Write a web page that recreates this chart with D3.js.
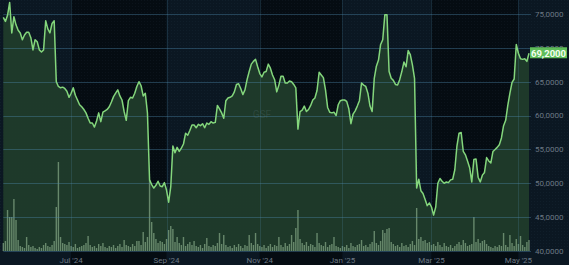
<!DOCTYPE html>
<html>
<head>
<meta charset="utf-8">
<script src="https://cdn.jsdelivr.net/npm/d3@7"></script>
<style>
body { margin: 0; background: #08121b; overflow: hidden; }
svg { display: block; }
</style>
</head>
<body>
<div id="chart"></div>
<script>
// daily closing prices (EUR), one per trading day
var closes = [
    74.5, 73.9, 74.8, 76.7, 72.2, 74.6, 73.4, 72.6, 72.2, 71.2,
    71.9, 72.3, 72.3, 71.5, 69.7, 71.2, 70.9, 69.7, 69.4, 69.7,
    74.0, 72.8, 72.2, 73.6, 74.0, 65.0, 64.3, 64.1, 64.2, 64.0,
    63.6, 62.7, 63.3, 64.1, 63.0, 62.3, 61.6, 61.3, 60.9, 60.4,
    59.6, 58.9, 58.9, 58.3, 59.2, 60.4, 59.1, 60.5, 60.7, 60.9,
    61.3, 62.0, 62.8, 63.3, 63.8, 62.9, 62.3, 60.6, 59.3, 62.2,
    62.7, 62.6, 63.3, 64.3, 65.0, 64.4, 62.9, 63.3, 60.4, 50.5,
    49.8, 49.3, 49.7, 50.3, 49.6, 49.5, 50.1, 49.0, 47.2, 49.5,
    55.5, 54.5, 55.3, 54.7, 55.2, 55.8, 57.4, 57.1, 57.8, 58.6,
    58.6, 58.2, 58.7, 58.5, 58.8, 58.2, 58.9, 58.7, 59.1, 58.9,
    59.0, 61.5, 61.0, 60.4, 59.6, 62.2, 62.6, 62.7, 62.9, 63.5,
    64.6, 64.7, 64.0, 63.1, 63.8, 65.3, 66.5, 67.6, 68.0, 68.3,
    67.2, 66.2, 65.7, 66.4, 66.5, 67.6, 67.0, 66.0, 65.3, 63.5,
    64.5, 65.8, 65.8, 64.8, 64.8, 65.1, 65.0, 64.6, 64.1, 58.0,
    60.6, 60.8, 61.4, 60.6, 60.9, 61.5, 62.3, 62.6, 63.7, 66.4,
    66.0, 65.6, 63.8, 61.2, 60.5, 60.4, 60.5, 60.0, 61.6, 62.2,
    62.3, 62.3, 62.1, 61.0, 58.8, 60.2, 60.7, 61.4, 62.2, 64.8,
    64.5, 64.3, 63.3, 61.4, 60.6, 65.5, 67.3, 68.2, 70.5, 71.2,
    74.9, 74.9, 66.5, 65.5, 65.2, 64.6, 64.5, 65.3, 66.5, 67.9,
    67.2, 69.6, 69.0, 67.5, 65.5, 49.3, 50.6, 48.9, 48.5, 47.6,
    46.7, 47.1, 46.5, 45.3, 46.5, 50.0, 50.7, 50.3, 50.0, 50.2,
    50.1, 50.5, 50.6, 52.0, 55.5, 57.4, 57.5, 54.7, 54.2, 53.3,
    52.3, 50.2, 53.5, 53.6, 50.9, 50.2, 51.2, 51.6, 53.8, 53.3,
    53.0, 54.7, 55.0, 55.3, 55.7, 56.7, 58.5, 59.3, 61.5, 63.3,
    64.9, 65.4, 70.5, 69.2, 68.4, 68.3, 68.4, 68.0, 69.2
];

// daily volume (thousand shares)
var volumes = [
    8, 10, 41, 34, 34, 52, 31, 11, 5, 4,
    3, 14, 6, 4, 5, 3, 2, 4, 3, 6,
    8, 5, 4, 6, 10, 44, 89, 14, 8, 7,
    6, 9, 5, 4, 7, 3, 4, 5, 6, 8,
    15, 6, 4, 5, 3, 7, 5, 8, 4, 3,
    5, 4, 6, 3, 5, 7, 4, 11, 6, 5,
    4, 7, 5, 10, 10, 6, 19, 9, 14, 71,
    29, 18, 12, 8, 10, 9, 7, 12, 21, 25,
    22, 9, 14, 8, 6, 14, 5, 7, 9, 6,
    10, 5, 4, 6, 3, 7, 13, 5, 4, 6,
    5, 8, 18, 7, 16, 6, 4, 5, 3, 6,
    4, 7, 5, 3, 6, 5, 16, 8, 6, 18,
    7, 5, 4, 6, 3, 5, 7, 4, 6, 5,
    14, 6, 4, 8, 5, 7, 16, 9, 23, 41,
    12, 8, 6, 9, 5, 7, 6, 4, 18, 8,
    6, 5, 9, 4, 6, 7, 14, 5, 4, 3,
    5, 4, 6, 3, 8, 5, 4, 6, 7, 11,
    5, 6, 4, 7, 9, 20, 8, 6, 10, 21,
    18, 22, 23, 9, 7, 5, 6, 4, 8, 5,
    6, 4, 7, 10, 6, 43, 12, 14, 10, 11,
    8, 9, 6, 7, 5, 9, 6, 4, 8, 5,
    4, 6, 3, 5, 7, 9, 6, 11, 8, 5,
    6, 7, 34, 9, 12, 8, 10, 11, 7, 5,
    4, 3, 5, 4, 6, 5, 18, 6, 4, 16,
    8, 5, 12, 7, 15, 6, 4, 9, 11
];

var priceTicks = [40, 45, 50, 55, 60, 65, 70, 75];
var tickMonths = [6, 8, 10, 0, 2, 4];   // Jul, Sep, Nov, Jan, Mar, May
var startDate = "2024-05-16";
var holidays = ["2024-12-24", "2024-12-25", "2024-12-26", "2024-12-31",
                "2025-01-01", "2025-04-18", "2025-04-21", "2025-05-01"];
var lastPrice = 69.2;
var watermark = "GSF";

var width = 569,
    height = 265,
    plotLeft = 3.3,
    plotRight = 529,
    plotBottom = 251,
    gridRight = 531;

// trading calendar (weekdays minus exchange holidays)
var parseDate = d3.utcParse("%Y-%m-%d"),
    fmtDay = d3.utcFormat("%Y-%m-%d"),
    fmtMonth = d3.utcFormat("%b '%y");

var dates = [];
var day = parseDate(startDate);
while (dates.length < closes.length)
{
    var wd = day.getUTCDay();
    if (wd != 0 && wd != 6 && holidays.indexOf(fmtDay(day)) < 0) dates.push(day);
    day = d3.utcDay.offset(day, 1);
}

var data = closes.map(function(c, i) { return {i: i, date: dates[i], close: c, volume: volumes[i]}; });

var monthTicks = data.filter(function(d, i) {
    return i > 0 && d.date.getUTCMonth() != dates[i - 1].getUTCMonth() && tickMonths.indexOf(d.date.getUTCMonth()) >= 0;
});

var de = d3.formatLocale({decimal: ",", thousands: ".", grouping: [3], currency: ["", " €"]});
var fmtPrice = de.format(".4f");

// scales
var x = d3.scaleLinear()
    .domain([0, closes.length - 1])
    .range([plotLeft, plotRight]);

var y = d3.scaleLinear()
    .domain([40, 75])
    .range([plotBottom, 14]);

var yVol = d3.scaleLinear()
    .domain([0, d3.max(volumes)])
    .range([plotBottom, 162]);

var svg = d3.select("#chart").append("svg")
    .attr("width", width)
    .attr("height", height);

// alternating background bands between month ticks
var edges = [0].concat(monthTicks.map(function(d) { return x(d.i); })).concat([width]);
var bands = d3.pairs(edges);

svg.append("g").selectAll("rect")
    .data(bands)
    .enter().append("rect")
    .attr("x", function(d) { return d[0]; })
    .attr("y", 0)
    .attr("width", function(d) { return d[1] - d[0]; })
    .attr("height", height)
    .attr("fill", function(d, i) { return i % 2 == 0 ? "#0b1722" : "#050c12"; });

// faint dot texture
var defs = svg.append("defs");
var pat = defs.append("pattern")
    .attr("id", "dots")
    .attr("width", 3)
    .attr("height", 3)
    .attr("patternUnits", "userSpaceOnUse");
pat.append("rect")
    .attr("width", 1)
    .attr("height", 1)
    .attr("fill", "rgba(120,160,190,0.05)");

svg.append("rect")
    .attr("width", width)
    .attr("height", plotBottom)
    .attr("fill", "url(#dots)");

// price area
var area = d3.area()
    .x(function(d) { return x(d.i); })
    .y0(plotBottom)
    .y1(function(d) { return y(d.close); });

svg.append("path")
    .datum(data)
    .attr("d", area)
    .attr("fill", "#1f3b2a")
    .attr("fill-opacity", 0.97);

// volume bars
svg.append("g").selectAll("rect")
    .data(data)
    .enter().append("rect")
    .attr("x", function(d) { return x(d.i) - 0.7; })
    .attr("y", function(d) { return yVol(d.volume); })
    .attr("width", 1.4)
    .attr("height", function(d) { return plotBottom - yVol(d.volume); })
    .attr("fill", "#86aa88")
    .attr("fill-opacity", 0.7);

// grid lines
svg.append("g").selectAll("line")
    .data(priceTicks)
    .enter().append("line")
    .attr("x1", plotLeft)
    .attr("x2", gridRight)
    .attr("y1", function(d) { return Math.round(y(d)) + 0.5; })
    .attr("y2", function(d) { return Math.round(y(d)) + 0.5; })
    .attr("stroke", "rgba(80,140,175,0.38)")
    .attr("stroke-width", 1);

svg.append("g").selectAll("line")
    .data(monthTicks)
    .enter().append("line")
    .attr("x1", function(d) { return Math.round(x(d.i)) + 0.5; })
    .attr("x2", function(d) { return Math.round(x(d.i)) + 0.5; })
    .attr("y1", 0)
    .attr("y2", plotBottom)
    .attr("stroke", "rgba(80,140,175,0.22)")
    .attr("stroke-width", 1);

// watermark
svg.append("text")
    .attr("x", 262)
    .attr("y", 118)
    .attr("text-anchor", "middle")
    .style("font-family", "Roboto, 'DejaVu Sans', sans-serif")
    .style("font-size", "10px")
    .attr("fill", "rgba(130,150,160,0.18)")
    .text(watermark);

// price line
var line = d3.line()
    .x(function(d) { return x(d.i); })
    .y(function(d) { return y(d.close); });

svg.append("path")
    .datum(data)
    .attr("d", line)
    .attr("fill", "none")
    .attr("stroke", "#84d67c")
    .attr("stroke-width", 1.5)
    .attr("stroke-linejoin", "round");

// right price axis
svg.append("g").selectAll("text")
    .data(priceTicks)
    .enter().append("text")
    .attr("x", 535)
    .attr("y", function(d) { return y(d); })
    .attr("dy", "0.35em")
    .style("font-family", "Roboto, 'DejaVu Sans', sans-serif")
    .style("font-size", "8px")
    .attr("fill", "#6b7784")
    .text(function(d) { return fmtPrice(d); });

// bottom date axis
svg.append("g").selectAll("text")
    .data(monthTicks)
    .enter().append("text")
    .attr("x", function(d) { return x(d.i); })
    .attr("y", 263)
    .attr("text-anchor", "middle")
    .style("font-family", "Roboto, 'DejaVu Sans', sans-serif")
    .style("font-size", "8px")
    .attr("fill", "#6b7784")
    .text(function(d) { return fmtMonth(d.date); });

// last price tag (covers part of the 70 label, as in the original)
var tag = svg.append("g")
    .attr("transform", "translate(530," + y(lastPrice) + ")");

tag.append("rect")
    .attr("x", 0)
    .attr("y", -6)
    .attr("width", 37)
    .attr("height", 11)
    .attr("fill", "#5fbd5a");

tag.append("text")
    .attr("x", 18.5)
    .attr("y", 0)
    .attr("dy", "0.35em")
    .attr("text-anchor", "middle")
    .style("font-family", "Roboto, 'DejaVu Sans', sans-serif")
    .style("font-size", "9.5px")
    .style("font-weight", "bold")
    .attr("fill", "#f4fff0")
    .text(fmtPrice(lastPrice));
</script>
</body>
</html>
